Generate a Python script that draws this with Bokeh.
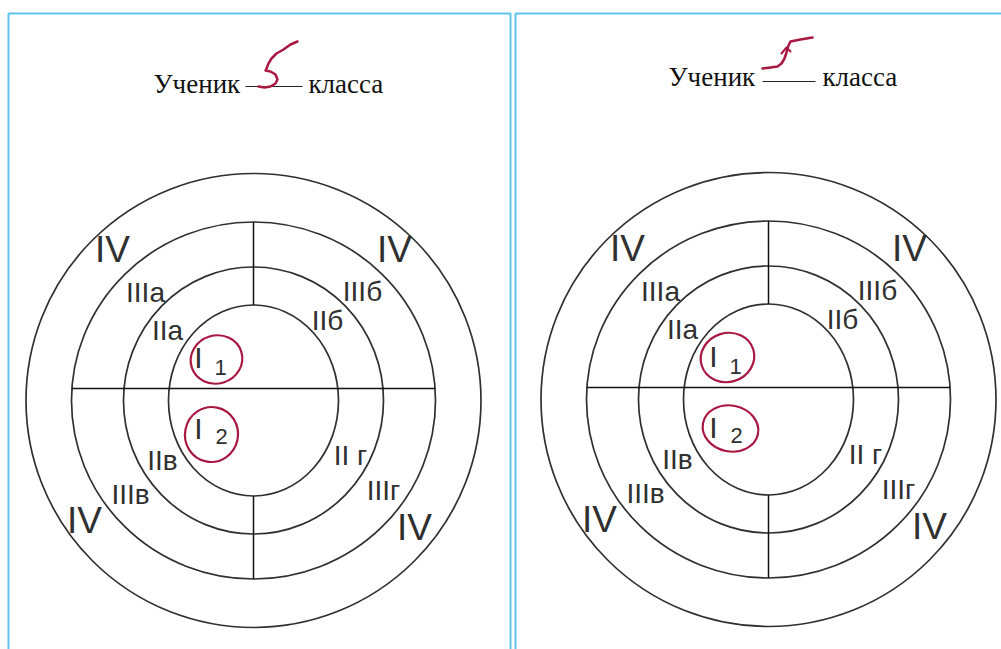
from bokeh.plotting import figure
from bokeh.models import Range1d
from bokeh.embed import file_html
from bokeh.resources import INLINE
from bokeh.core.properties import value

# ---- data ----
ring_names = ["I", "II", "III", "IV"]
ring_widths = [170, 260, 364, 455]
ring_heights = [191, 267, 357, 454]

label_texts = ["IV", "IV", "IIIа", "IIIб", "IIа", "IIб", "IIв", "II г", "IIIв", "IIIг", "IV", "IV"]
label_dx = [-141, 141, -108, 109, -86, 74, -91, 97, -123, 130, -169, 161]
label_dy = [-151, -151, -108, -109, -70, -80, 60, 55, 94, 90, 120, 127]
label_sizes = ["37px", "37px", "28px", "28px", "28px", "28px", "28px", "28px", "28px", "28px", "37px", "37px"]

title_left = "Ученик"
title_right = "класса"
class_number = "5"

panels_cx = [253, 768]
panels_cy = [400, 399]
panels_line_y = [388, 387]

# handwritten "5" strokes (left and right sheets)
five_left_x = [297, 290, 283, 276, 271, 268, 266, 265, 270, 275, 277, 275, 270, 264, 258]
five_left_y = [41, 44, 49, 53, 58, 63, 68, 70, 71, 74, 79, 83, 86, 87, 86]
five_right_x = [762, 770, 777, 781, 784, 786, 788, 790, 800, 812]
five_right_y = [68, 67, 66, 63, 58, 52, 45, 41, 39, 37]
hook_right_x = [781, 786, 790]
hook_right_y = [53, 47, 51]

# circled "I 1" and "I 2"
circ_dx = [[-37, -42], [-41, -38]]
circ_dy = [[-41, 34], [-42, 29]]
circ_w = [[52, 53], [54, 56]]
circ_h = [[48, 55], [49, 46]]

INK = "#303030"
RED = "#a81840"
BLUE = "#5ec4ee"

p = figure(width=1001, height=649, x_range=Range1d(0, 1001), y_range=Range1d(649, 0),
           output_backend="svg", toolbar_location=None, min_border=0)
p.axis.visible = False
p.grid.visible = False
p.outline_line_color = None
p.background_fill_color = "white"
p.border_fill_color = "white"

# sheet borders
p.quad(left=[8, 515], right=[510, 1010], top=[13, 13], bottom=[700, 700],
       fill_color="white", line_color=BLUE, line_width=2)

for k, (cx, cy, ly) in enumerate(zip(panels_cx, panels_cy, panels_line_y)):
    # rings
    p.ellipse(x=[cx] * 4, y=[cy] * 4, width=ring_widths, height=ring_heights,
              fill_color=None, line_color=INK, line_width=1.7)
    # cross lines
    half3 = ring_widths[2] / 2
    top3 = cy - ring_heights[2] / 2
    top1 = cy - ring_heights[0] / 2
    bot1 = cy + ring_heights[0] / 2
    bot3 = cy + ring_heights[2] / 2
    p.segment(x0=[cx - half3, cx, cx], y0=[ly, top3, bot1],
              x1=[cx + half3, cx, cx], y1=[ly, top1, bot3],
              line_color="#111111", line_width=1.5)
    # zone labels
    p.text(x=[cx + d for d in label_dx], y=[cy + d for d in label_dy], text=label_texts,
           text_font=value("Liberation Sans"), text_font_size=label_sizes,
           text_align="center", text_baseline="middle", text_color=INK)
    # I1 / I2
    ix = [cx - 55, cx - 55]
    iy = [cy - 43, cy + 28]
    p.text(x=ix, y=iy, text=["I", "I"], text_font=value("Liberation Sans"),
           text_font_size="30px", text_align="center", text_baseline="middle", text_color=INK)
    p.text(x=[cx - 33, cx - 32], y=[cy - 33, cy + 36], text=["1", "2"],
           text_font=value("Liberation Sans"), text_font_size="22px",
           text_align="center", text_baseline="middle", text_color=INK)
    p.ellipse(x=[cx + d for d in circ_dx[k]], y=[cy + d for d in circ_dy[k]],
              width=circ_w[k], height=circ_h[k], angle=[0.3, -0.2],
              fill_color=None, line_color=RED, line_width=2.2)

# titles
p.text(x=[153, 668], y=[83, 76], text=[title_left, title_left],
       text_font=value("Liberation Serif"), text_font_size="27px",
       text_align="left", text_baseline="alphabetic", text_color="#111111")
p.text(x=[308, 822], y=[83, 76], text=[title_right, title_right],
       text_font=value("Liberation Serif"), text_font_size="27px",
       text_align="left", text_baseline="alphabetic", text_color="#111111")
p.segment(x0=[245, 762], y0=[86, 81], x1=[302, 815], y1=[86, 81],
          line_color="#222222", line_width=1.2)

# handwritten class number
p.line(five_left_x, five_left_y, line_color=RED, line_width=2.5, line_join="round", line_cap="round")
p.line(five_right_x, five_right_y, line_color=RED, line_width=2.5, line_join="round", line_cap="round")
p.line(hook_right_x, hook_right_y, line_color=RED, line_width=2, line_join="round", line_cap="round")

open("out.html", "w").write(file_html(p, INLINE))
